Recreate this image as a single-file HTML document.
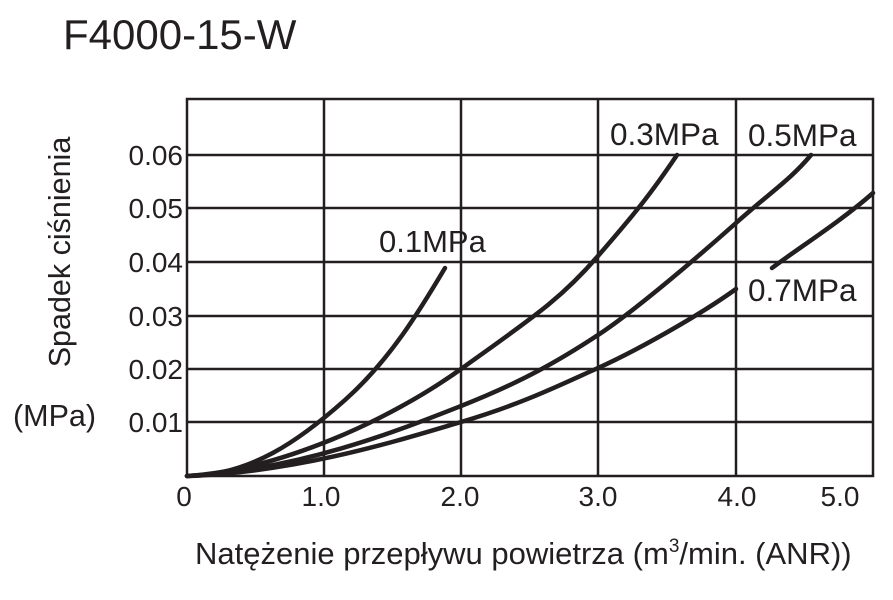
<!DOCTYPE html>
<html><head><meta charset="utf-8"><style>
body{margin:0;background:#fff;}
svg text{font-family:"Liberation Sans",sans-serif;fill:#231f20;}
</style></head><body>
<svg width="893" height="595" viewBox="0 0 893 595" xmlns="http://www.w3.org/2000/svg">
<rect width="893" height="595" fill="#fff"/>
<text x="63" y="49" font-size="42">F4000-15-W</text>
<g stroke="#231f20" stroke-width="2.5" fill="none">
<rect x="187" y="99" width="686" height="377"/>
<line x1="324" y1="99" x2="324" y2="476"/><line x1="461" y1="99" x2="461" y2="476"/>
<line x1="598" y1="99" x2="598" y2="476"/><line x1="736" y1="99" x2="736" y2="476"/>
<line x1="187" y1="155" x2="873" y2="155"/><line x1="187" y1="208" x2="873" y2="208"/>
<line x1="187" y1="262" x2="873" y2="262"/><line x1="187" y1="316" x2="873" y2="316"/>
<line x1="187" y1="369" x2="873" y2="369"/><line x1="187" y1="422" x2="873" y2="422"/>
</g>
<g stroke="#231f20" stroke-width="4.5" fill="none" stroke-linecap="round">
<path d="M187,476 C250,476 300,440 345,400 S420,310 445,268"/>
<path d="M187,476 C280,470 390,420 461,369 S560,300 598,256 S650,195 677,155"/>
<path d="M187,476 C300,470 400,430 461,406 S560,360 598,335 S700,255 736,223 S790,180 811,155"/>
<path d="M187,476 C300,472 400,440 461,422 S560,385 598,368 S700,315 736,289"/>
<path d="M772,268 C800,247 840,222 873,193"/>
</g>
<text x="379" y="252" font-size="31">0.1MPa</text>
<rect x="606" y="112" width="126" height="40" fill="#fff"/>
<text x="610" y="145" font-size="31.5">0.3MPa</text>
<rect x="744" y="112" width="126" height="40" fill="#fff"/>
<text x="748" y="146" font-size="31.5">0.5MPa</text>
<rect x="744" y="272" width="126" height="36" fill="#fff"/>
<text x="748" y="301" font-size="31.5">0.7MPa</text>
<g font-size="28" text-anchor="end">
<text x="183" y="165">0.06</text><text x="183" y="218">0.05</text>
<text x="183" y="272">0.04</text><text x="183" y="326">0.03</text>
<text x="183" y="379">0.02</text><text x="183" y="432">0.01</text>
</g>
<g font-size="28" text-anchor="middle">
<text x="184" y="506">0</text><text x="321" y="506">1.0</text><text x="460" y="506">2.0</text>
<text x="598" y="506">3.0</text><text x="737" y="506">4.0</text><text x="840" y="506">5.0</text>
</g>
<text transform="translate(70,252) rotate(-90)" font-size="30.5" text-anchor="middle">Spadek ciśnienia</text>
<text x="13" y="426" font-size="30.5">(MPa)</text>
<text x="195" y="564" font-size="31">Natężenie przepływu powietrza (m<tspan font-size="19" dy="-12">3</tspan><tspan dy="12">/min. (ANR))</tspan></text>
</svg>
</body></html>
